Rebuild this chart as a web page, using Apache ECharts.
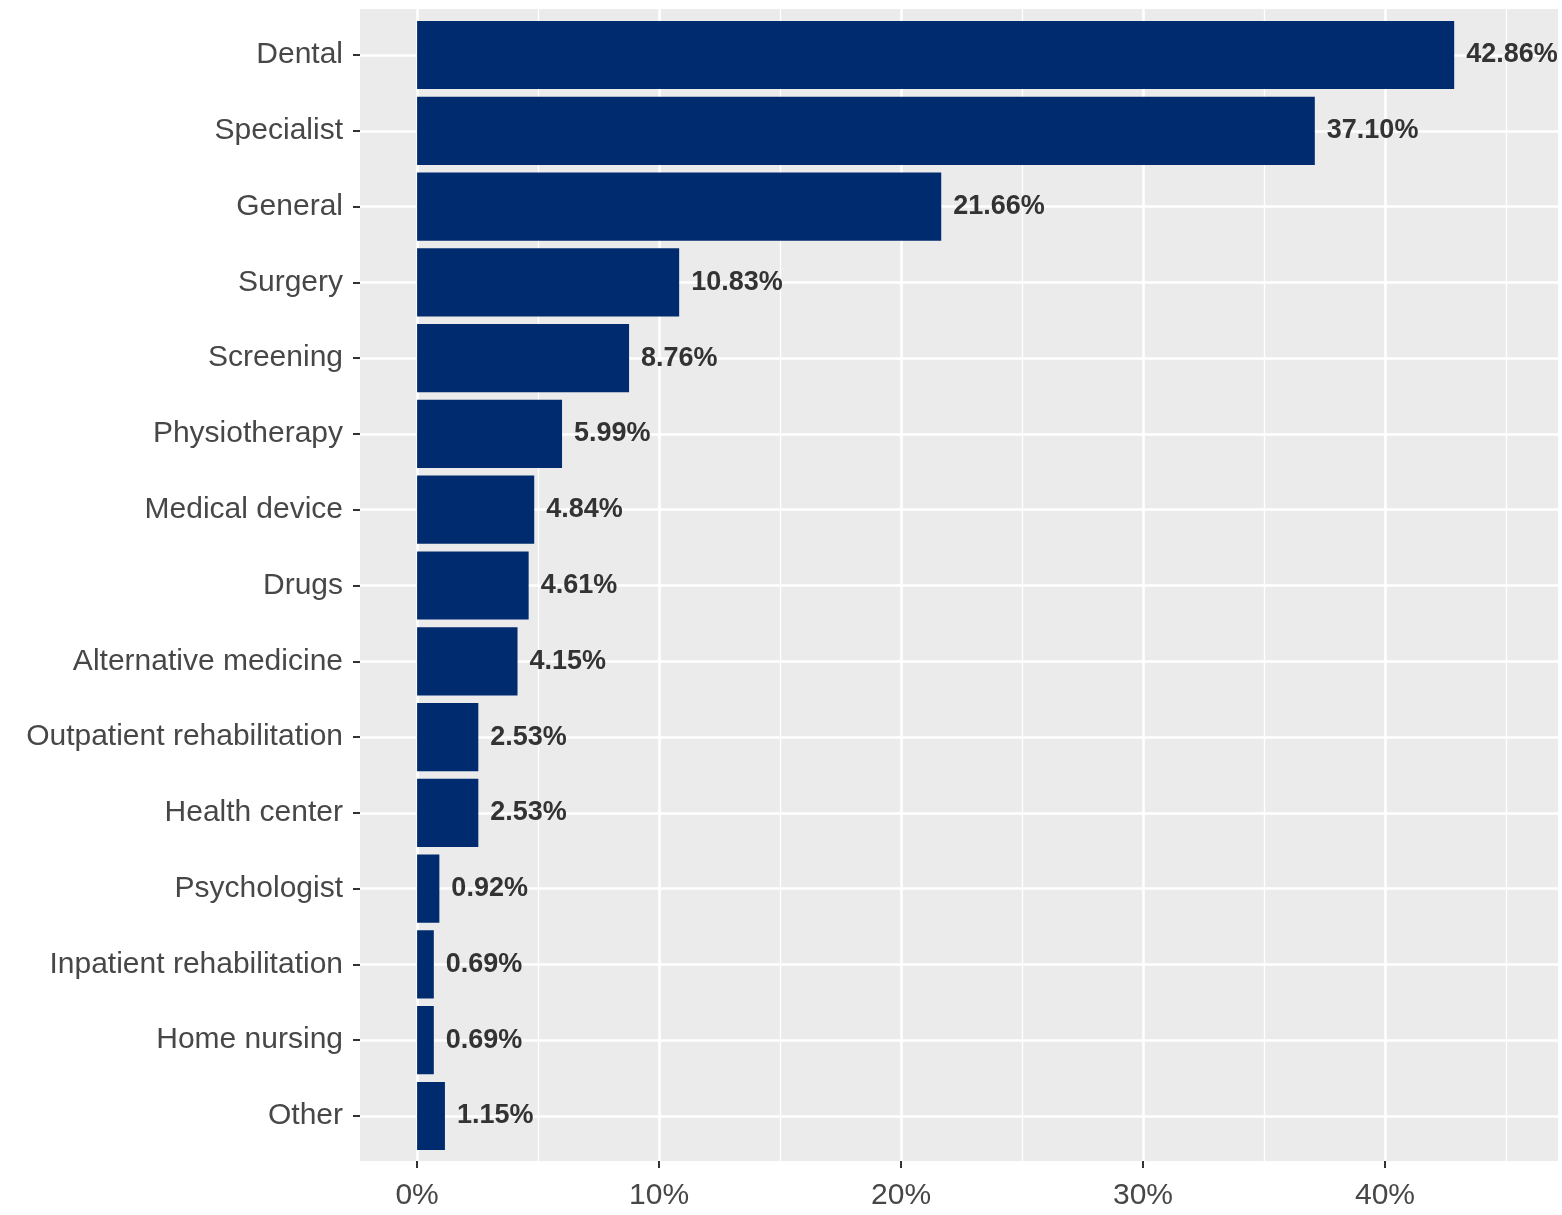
<!DOCTYPE html>
<html>
<head>
<meta charset="utf-8">
<script src="https://cdn.jsdelivr.net/npm/echarts@6/dist/echarts.min.js"></script>
<style>
html,body{margin:0;padding:0;background:#fff;}
#chart{width:1562px;height:1215px;}
</style>
</head>
<body>
<div id="chart"></div>
<script>
const categories = ["Dental","Specialist","General","Surgery","Screening","Physiotherapy","Medical device","Drugs","Alternative medicine","Outpatient rehabilitation","Health center","Psychologist","Inpatient rehabilitation","Home nursing","Other"];
const shares = [42.86,37.10,21.66,10.83,8.76,5.99,4.84,4.61,4.15,2.53,2.53,0.92,0.69,0.69,1.15];
const majorTicks = [0,10,20,30,40];
const minorTicks = [5,15,25,35,45];
const xMin = -2.36, xMax = 47.15;

const FONT = 'Liberation Sans, Arial, sans-serif';
const chart = echarts.init(document.getElementById('chart'), null, {renderer:'canvas'});
chart.setOption({
  animation:false,
  backgroundColor:'#ffffff',
  grid:[
    {left:360, right:4, top:9, bottom:54, show:true, backgroundColor:'#EBEBEB', borderWidth:0},
    {left:360, right:4, top:55, bottom:99, show:false}
  ],
  xAxis:[
    {gridIndex:0, type:'value', min:xMin, max:xMax, position:'bottom',
     axisLine:{show:false},
     axisTick:{show:true, length:7, customValues:majorTicks, lineStyle:{color:'#333', width:2}},
     axisLabel:{show:true, customValues:majorTicks, formatter:'{value}%', fontSize:30, color:'#474747', fontFamily:FONT, margin:20},
     splitLine:{show:true, lineStyle:{color:'#ffffff', width:2.6}}},
    {gridIndex:0, type:'value', min:xMin, max:xMax, position:'bottom',
     axisLine:{show:false},
     axisTick:{show:false, customValues:minorTicks},
     axisLabel:{show:false, customValues:minorTicks},
     splitLine:{show:true, lineStyle:{color:'#ffffff', width:1.3}}},
    {gridIndex:1, type:'value', min:xMin, max:xMax, show:false, splitLine:{show:false}}
  ],
  yAxis:[
    {gridIndex:0, type:'value', min:0, max:1, show:false, splitLine:{show:false}},
    {gridIndex:1, type:'category', data:categories, inverse:true, boundaryGap:false, position:'left',
     axisLine:{show:false, onZero:false},
     axisTick:{show:true, length:7, alignWithLabel:true, lineStyle:{color:'#333', width:2}},
     axisLabel:{fontSize:30, color:'#474747', fontFamily:FONT, margin:17, padding:[10,0,0,0]},
     splitLine:{show:true, lineStyle:{color:'#ffffff', width:2.6}}}
  ],
  series:[{
    type:'bar', xAxisIndex:2, yAxisIndex:1,
    data:shares, barWidth:'90%', clip:false,
    itemStyle:{color:'#002B6E'},
    label:{show:true, position:'right', distance:12,
      formatter:p=>p.value.toFixed(2)+'%',
      fontSize:27, fontWeight:'bold', color:'#333', fontFamily:FONT}
  }]
});
</script>
</body>
</html>
